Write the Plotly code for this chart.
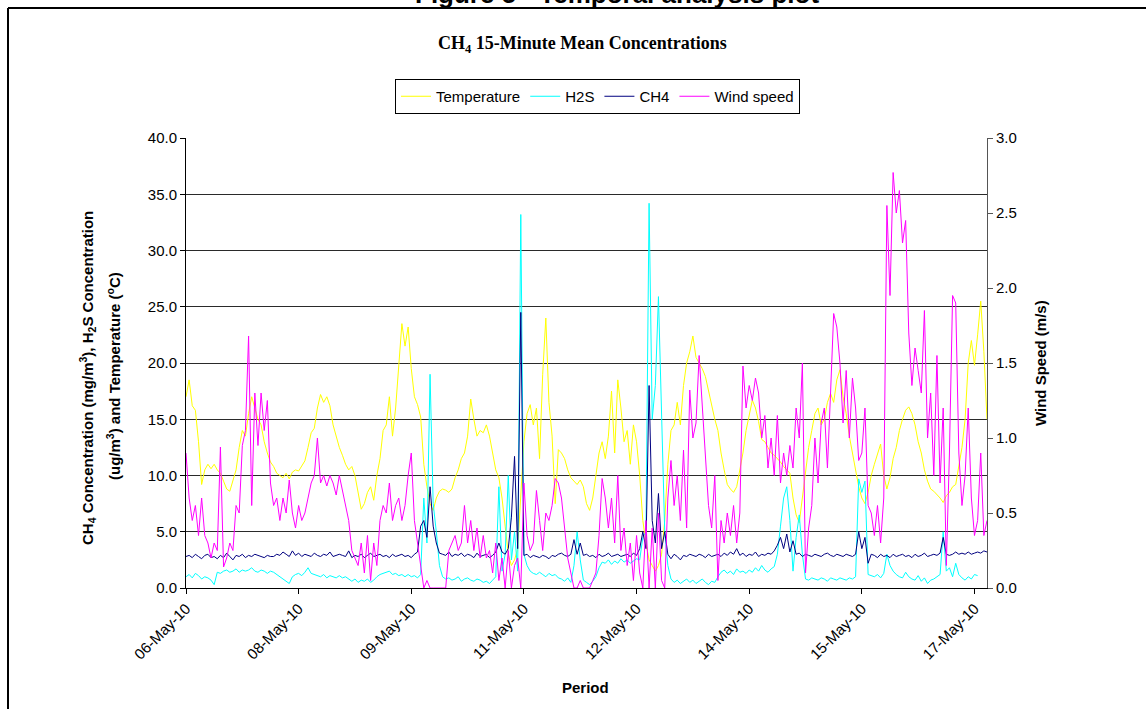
import plotly.graph_objects as go
import pandas as pd

# ---------------- data (hourly readings, 06-May-10 12:00 onwards) ----------------
START = "2010-05-06 12:00"
N_POINTS = 257

tick_labels = ["06-May-10", "08-May-10", "09-May-10", "11-May-10",
               "12-May-10", "14-May-10", "15-May-10", "17-May-10"]

temperature = [
    17.0, 18.5, 16.2, 15.8, 13.0, 9.2, 10.5, 11.0, 10.6, 11.0,
    10.5, 10.2, 9.5, 8.8, 8.6, 9.5, 10.5, 12.5, 14.0, 13.5,
    15.5, 17.0, 16.0, 15.0, 14.5, 13.0, 12.0, 11.2, 10.8, 10.2,
    10.0, 9.8, 10.2, 9.7, 10.3, 10.5, 10.4, 10.8, 11.3, 12.5,
    13.8, 14.2, 16.0, 17.2, 16.5, 17.0, 16.2, 14.5, 13.5, 12.5,
    11.8, 11.0, 10.5, 10.8, 10.0, 8.5, 7.0, 7.5, 8.5, 9.0,
    7.8, 10.0, 11.5, 14.0, 14.5, 17.0, 13.5, 16.0, 19.5, 23.5,
    21.5, 23.2, 19.5, 17.0, 16.3, 15.2, 11.0, 9.0, 7.5, 6.9,
    8.0, 8.6, 8.8, 8.7, 8.5, 8.8, 9.8, 10.5, 11.5, 12.0,
    13.5, 16.8, 15.0, 13.5, 14.0, 13.8, 14.5, 13.5, 12.0, 10.5,
    9.8, 8.0, 5.5, 3.0, 2.0, 2.5, 3.5, 8.0, 13.0, 15.5,
    16.3, 14.5, 16.0, 11.5, 19.0, 24.0, 16.5, 13.5, 7.5, 12.3,
    12.0, 11.5, 10.5, 9.8, 9.5, 9.2, 9.6, 9.0, 7.5, 6.9,
    8.0, 10.0, 12.0, 13.0, 11.5, 13.5, 17.5, 12.0, 18.5, 16.0,
    13.0, 14.0, 11.0, 14.5, 13.0, 10.0, 6.0, 4.0, 2.5, 2.0,
    1.5, 2.0, 3.0, 6.0, 11.0, 14.0, 14.5, 16.5, 14.5, 18.0,
    20.0, 21.0, 22.4, 20.5, 20.0, 19.5, 18.8, 17.5, 16.5, 15.0,
    14.0, 12.0, 10.5, 9.2, 8.8, 8.5, 9.0, 10.5, 12.0, 14.0,
    15.5, 16.7, 16.0, 14.8, 13.2, 13.0, 12.5, 12.0, 11.8, 11.5,
    11.2, 10.8, 10.5, 10.2, 8.0, 6.5, 5.8, 8.0, 10.5, 12.5,
    14.0, 15.5, 16.0, 14.5, 15.0, 16.5, 17.3, 16.5, 18.5, 19.4,
    17.0, 15.5, 13.5, 12.0, 10.5, 9.0, 8.0, 7.5, 8.5, 10.0,
    11.0, 12.0, 12.8, 10.0, 8.8, 9.8, 11.5, 12.5, 14.0, 15.0,
    15.8, 16.1, 15.5, 14.5, 13.0, 12.0, 10.5, 9.5, 8.8, 8.6,
    8.3, 8.0, 7.6, 8.2, 8.5, 9.0, 9.2, 11.0, 12.5, 15.0,
    20.0, 22.0, 19.8, 22.5, 25.5, 21.0, 15.0,
]

h2s = [
    1.0, 1.2, 0.9, 1.3, 1.1, 0.8, 1.0, 0.9, 0.7, 0.3,
    1.4, 1.3, 1.5, 1.6, 1.4, 1.5, 1.7, 1.4, 1.6, 1.5,
    1.6, 1.8, 1.5, 1.4, 1.6, 1.5, 1.3, 1.5, 1.4, 1.2,
    1.0, 0.8, 0.6, 0.4, 1.0, 1.2, 1.3, 1.1, 1.4, 1.8,
    1.3, 1.2, 1.1, 1.0, 1.2, 0.9, 1.1, 1.0, 0.9, 1.1,
    0.9, 1.0, 0.8, 0.6, 0.8, 0.5, 0.7, 0.6, 0.8, 0.5,
    0.7, 1.0, 1.2, 1.3, 1.4, 1.5, 1.2, 1.3, 1.1, 1.2,
    1.0, 1.2, 1.0, 1.1, 0.9, 1.2, 8.0, 4.0, 19.0, 7.5,
    5.0, 2.0, 1.0, 0.8, 0.9, 0.7, 0.8, 1.0, 0.6, 0.8,
    0.9, 0.7, 0.6, 0.8, 0.7, 0.5, 0.6, 0.4, 0.7, 1.0,
    9.0, 1.5, 3.0, 10.0, 2.5, 5.0, 1.5, 33.2, 3.0, 2.0,
    1.5, 1.3, 1.2, 1.4, 1.2, 1.0, 1.3, 1.1, 1.2, 0.9,
    0.8, 0.6, 0.9, 0.5, 2.0, 5.0, 2.5, 0.7, 0.5, 0.3,
    0.6, 1.0, 1.8, 2.3, 2.2, 2.5, 2.1, 2.4, 2.2, 2.6,
    2.3, 2.5, 2.2, 2.4, 2.6, 2.5, 4.5, 5.0, 34.2, 15.0,
    18.0, 25.9, 14.5, 5.0, 2.0, 0.8, 0.5, 0.7, 0.4, 0.6,
    0.8, 0.5, 0.7, 0.4, 0.6, 0.8, 0.5, 0.3, 0.6, 0.5,
    1.0, 1.4, 1.6, 1.3, 1.5, 1.2, 1.7, 1.4, 1.5, 1.3,
    1.6, 1.4, 1.8, 1.5, 2.0, 1.6, 1.4, 1.7, 1.9, 3.0,
    5.5, 8.0, 9.0, 6.0, 1.5, 4.5, 6.5, 3.0, 0.8, 0.7,
    0.9, 0.8, 0.7, 0.9, 0.8, 0.6, 0.9, 0.8, 0.7, 0.9,
    0.8, 0.7, 0.9, 0.8, 1.0, 9.7, 8.5, 9.5, 1.2, 1.1,
    1.0, 1.2, 0.9, 1.3, 3.0, 2.0, 1.5, 1.2, 1.0, 0.9,
    1.4, 1.0, 0.8, 0.7, 1.1, 0.6, 0.9, 0.4, 0.7, 0.8,
    1.0, 1.2, 5.0, 1.5, 1.8, 1.0, 2.2, 1.2, 0.9, 0.7,
    1.0, 0.8, 1.2, 1.1, None, None, None,
]

ch4 = [
    2.8, 2.9, 2.7, 3.0, 2.8, 2.6, 2.9, 3.0, 2.7, 2.8,
    2.6, 2.9, 2.7, 3.1, 2.8, 2.5, 2.9, 2.8, 3.0, 2.7,
    2.9, 2.8, 3.0, 2.9, 2.8, 2.7, 2.9, 2.8, 2.8, 3.0,
    2.9, 3.2, 3.0, 2.8, 3.3, 2.9, 3.1, 2.8, 3.0, 2.9,
    2.8, 3.1, 2.9, 2.8, 3.0, 2.9, 3.2, 2.8, 2.9, 3.0,
    2.9, 2.8, 3.3, 2.7, 2.9, 2.8, 3.0, 2.7, 2.9, 3.1,
    2.8, 2.9, 3.0, 2.8, 2.9, 2.7, 3.0, 2.8, 2.9, 3.0,
    2.8, 2.9, 2.7, 3.0, 3.2, 5.5, 6.0, 4.5, 9.0, 5.5,
    4.0, 3.1, 3.0, 2.9, 3.2, 2.8, 3.0, 2.9, 3.1, 2.8,
    3.0, 2.9, 2.7, 3.1, 2.8, 2.9, 3.0, 2.7, 2.9, 3.2,
    4.0, 3.2, 3.0, 3.5, 6.3, 11.7, 3.5, 24.5, 2.9, 3.0,
    2.7, 2.9, 2.8, 2.7, 2.9, 2.8, 2.6, 2.9, 2.8, 3.0,
    3.1, 2.9, 2.8, 3.0, 4.3, 3.0, 4.0, 2.9, 3.0, 2.8,
    2.9, 2.7, 3.0, 2.8, 2.9, 3.1, 2.8, 2.9, 3.0, 2.8,
    2.9, 3.0, 2.8, 3.1, 2.9, 3.5, 5.0, 3.5, 18.0, 6.0,
    4.0, 8.4, 3.5, 5.0, 3.0, 2.6, 3.0, 2.8, 2.5, 2.9,
    2.8, 3.0, 2.9, 2.8, 3.0, 2.9, 2.7, 3.0, 2.8, 2.9,
    3.0, 2.8, 3.1, 2.9, 3.2, 3.0, 3.5, 2.9, 3.1, 2.8,
    3.0, 2.9, 3.2, 2.8, 3.0, 2.9, 3.1, 3.0, 3.3, 3.8,
    4.5, 3.5, 4.8, 3.2, 4.2, 3.0, 3.1, 2.8, 3.0, 2.9,
    2.8, 3.0, 2.9, 2.8, 3.0, 3.1, 2.9, 2.8, 3.0, 2.9,
    2.8, 3.0, 2.9, 2.8, 3.0, 5.0, 3.5, 4.5, 2.2, 3.0,
    2.9, 2.7, 3.0, 2.8, 2.9, 2.7, 3.0, 2.8, 2.9, 3.0,
    2.8, 2.9, 2.7, 3.0, 2.8, 2.9, 3.1, 2.8, 2.9, 3.0,
    2.9, 3.1, 4.5, 3.0, 2.9, 3.0, 3.2, 3.0, 3.1, 3.0,
    3.2, 3.0, 3.1, 3.2, 3.1, 3.3, 3.2,
]

wind_speed = [
    0.9, 0.6, 0.45, 0.55, 0.35, 0.6, 0.35, 0.3, 0.2, 0.3,
    0.25, 0.94, 0.14, 0.2, 0.3, 0.25, 0.55, 0.5, 0.95, 1.05,
    1.68, 0.55, 1.3, 0.95, 1.3, 1.05, 1.25, 0.7, 0.55, 0.6,
    0.45, 0.6, 0.5, 0.72, 0.5, 0.4, 0.55, 0.45, 0.5, 0.6,
    0.7, 0.75, 1.0, 0.7, 0.75, 0.68, 0.75, 0.7, 0.62, 0.75,
    0.65, 0.55, 0.45, 0.25, 0.2, 0.15, 0.3, 0.1, 0.35, 0.05,
    0.3, 0.15, 0.45, 0.55, 0.5, 0.7, 0.45, 0.55, 0.6, 0.45,
    0.55, 0.75, 0.9, 0.45, 0.3, 0.15, 0.0, 0.05, 0.0, 0.0,
    0.0, 0.0, 0.0, 0.0, 0.25, 0.3, 0.35, 0.25, 0.3, 0.55,
    0.3, 0.45, 0.25, 0.4, 0.2, 0.35, 0.2, 0.25, 0.1, 0.3,
    0.05, 0.2, 0.0, 0.25, 0.0, 0.15, 0.2, 0.0, 0.7, 0.35,
    0.25, 0.3, 0.65, 0.45, 0.25, 0.5, 0.45, 0.55, 0.73, 0.7,
    0.6, 0.4, 0.2, 0.1, 0.0, 0.0, 0.05, 0.0, 0.0, 0.0,
    0.05, 0.1, 0.35, 0.73, 0.6, 0.4, 0.6, 0.3, 0.75, 0.25,
    0.4, 0.15, 0.3, 0.05, 0.35, 0.1, 0.0, 0.45, 0.0, 0.4,
    0.0, 0.5, 0.05, 0.0, 0.6, 0.85, 0.55, 0.75, 0.45, 0.92,
    0.4, 1.32, 1.0, 1.1, 1.55, 1.2, 0.9, 0.55, 0.4, 0.75,
    0.05, 0.45, 0.3, 0.5, 0.35, 0.55, 0.3, 0.5, 1.48, 1.2,
    1.35, 1.25, 1.4, 1.3, 1.0, 1.15, 0.8, 1.0, 0.75, 1.15,
    0.7, 0.9, 0.75, 0.95, 0.8, 1.2, 1.0, 1.5, 0.1, 0.4,
    0.55, 1.0, 0.7, 1.1, 1.2, 0.8, 1.3, 1.83, 1.74, 1.5,
    1.1, 1.45, 1.0, 1.4, 1.2, 0.85, 0.9, 1.2, 0.55, 0.5,
    0.35, 0.55, 0.3, 0.6, 2.55, 1.95, 2.77, 2.5, 2.65, 2.3,
    2.45, 1.7, 1.35, 1.6, 1.45, 1.3, 1.85, 1.0, 1.3, 0.75,
    1.55, 0.7, 1.2, 0.15, 0.9, 1.95, 1.9, 0.9, 0.55, 0.75,
    1.2, 0.6, 0.35, 0.45, 0.9, 0.35, 0.45,
]

for arr in (temperature, h2s, ch4, wind_speed):
    assert len(arr) == N_POINTS, len(arr)

times = pd.date_range(START, periods=N_POINTS, freq="h")
tick_times = pd.date_range(START, periods=len(tick_labels), freq="36h")

# ---------------- geometry helpers (pixel -> paper) ----------------
W, H = 1146, 709
PL, PR, PT, PB = 186, 987, 138, 588


def px_x(p):
    return (p - PL) / (PR - PL)


def px_y(p):
    return (PB - p) / (PB - PT)


SANS = "Liberation Sans, Arial, sans-serif"
SERIF = "Liberation Serif, Times New Roman, serif"

fig = go.Figure()
fig.add_trace(go.Scatter(x=times, y=temperature, name="Temperature", mode="lines",
                         line=dict(color="#FFFF00", width=1)))
fig.add_trace(go.Scatter(x=times, y=h2s, name="H2S", mode="lines",
                         line=dict(color="#00FFFF", width=1)))
fig.add_trace(go.Scatter(x=times, y=ch4, name="CH4", mode="lines",
                         line=dict(color="#000080", width=1)))
fig.add_trace(go.Scatter(x=times, y=wind_speed, name="Wind speed", mode="lines",
                         line=dict(color="#FF00FF", width=1), yaxis="y2"))

fig.update_layout(
    width=W, height=H,
    margin=dict(l=PL, r=W - PR, t=PT, b=H - PB, pad=0),
    paper_bgcolor="white", plot_bgcolor="white",
    font=dict(family=SANS, size=15, color="black"),
    xaxis=dict(
        type="date",
        range=[times[0].strftime("%Y-%m-%d %H:%M"), times[-1].strftime("%Y-%m-%d %H:%M")],
        tickmode="array", tickvals=list(tick_times), ticktext=tick_labels,
        tickangle=-45, tickfont=dict(size=15),
        ticks="outside", ticklen=5, tickcolor="black",
        showline=True, linecolor="black", linewidth=1,
        showgrid=False, zeroline=False,
    ),
    yaxis=dict(
        range=[0, 40], tick0=0, dtick=5, tickformat=".1f",
        tickfont=dict(size=15),
        ticks="outside", ticklen=5, tickcolor="black",
        showline=True, linecolor="black", linewidth=1,
        showgrid=True, gridcolor="#2a2a2a", gridwidth=1,
        zeroline=False,
    ),
    yaxis2=dict(
        overlaying="y", side="right", anchor="x",
        range=[0, 3], tick0=0, dtick=0.5, tickformat=".1f",
        tickfont=dict(size=15),
        ticks="outside", ticklen=5, tickcolor="#555555",
        showline=True, linecolor="#555555", linewidth=1,
        showgrid=False, zeroline=False,
    ),
    legend=dict(
        orientation="h", x=px_x(395), y=px_y(79), xanchor="left", yanchor="top",
        bordercolor="black", borderwidth=1, bgcolor="white",
        font=dict(family=SANS, size=15), itemwidth=30,
    ),
    shapes=[
        dict(type="line", xref="paper", yref="paper",
             x0=px_x(8), x1=px_x(W + 20), y0=px_y(8), y1=px_y(8),
             line=dict(color="black", width=2)),
        dict(type="line", xref="paper", yref="paper",
             x0=px_x(8), x1=px_x(8), y0=px_y(8), y1=px_y(H + 20),
             line=dict(color="black", width=2)),
    ],
    annotations=[
        dict(text="<b>Figure 5 - Temporal analysis plot</b>", xref="paper", yref="paper",
             x=px_x(617), y=px_y(-6), xanchor="center", yanchor="middle", showarrow=False,
             font=dict(family=SANS, size=26, color="black")),
        dict(text="<b>CH<sub>4</sub> 15-Minute Mean Concentrations</b>", xref="paper", yref="paper",
             x=px_x(582), y=px_y(45), xanchor="center", yanchor="middle", showarrow=False,
             font=dict(family=SERIF, size=18, color="black")),
        dict(text="<b>CH<sub>4</sub> Concentration (mg/m<sup>3</sup>), H<sub>2</sub>S Concentration</b>",
             xref="paper", yref="paper", x=px_x(87), y=px_y(378), xanchor="center", yanchor="middle",
             textangle=-90, showarrow=False, font=dict(family=SANS, size=15, color="black")),
        dict(text="<b>(ug/m<sup>3</sup>) and Temperature (<sup>o</sup>C)</b>",
             xref="paper", yref="paper", x=px_x(113), y=px_y(376), xanchor="center", yanchor="middle",
             textangle=-90, showarrow=False, font=dict(family=SANS, size=15, color="black")),
        dict(text="<b>Wind Speed (m/s)</b>", xref="paper", yref="paper",
             x=px_x(1040), y=px_y(363), xanchor="center", yanchor="middle",
             textangle=-90, showarrow=False, font=dict(family=SANS, size=15, color="black")),
        dict(text="<b>Period</b>", xref="paper", yref="paper",
             x=px_x(585), y=px_y(687), xanchor="center", yanchor="middle", showarrow=False,
             font=dict(family=SANS, size=15, color="black")),
    ],
)

fig.write_html(
    "out.html",
    config={"displayModeBar": False},
    post_script="document.body.style.margin='0px'; document.body.style.overflow='hidden';",
)
